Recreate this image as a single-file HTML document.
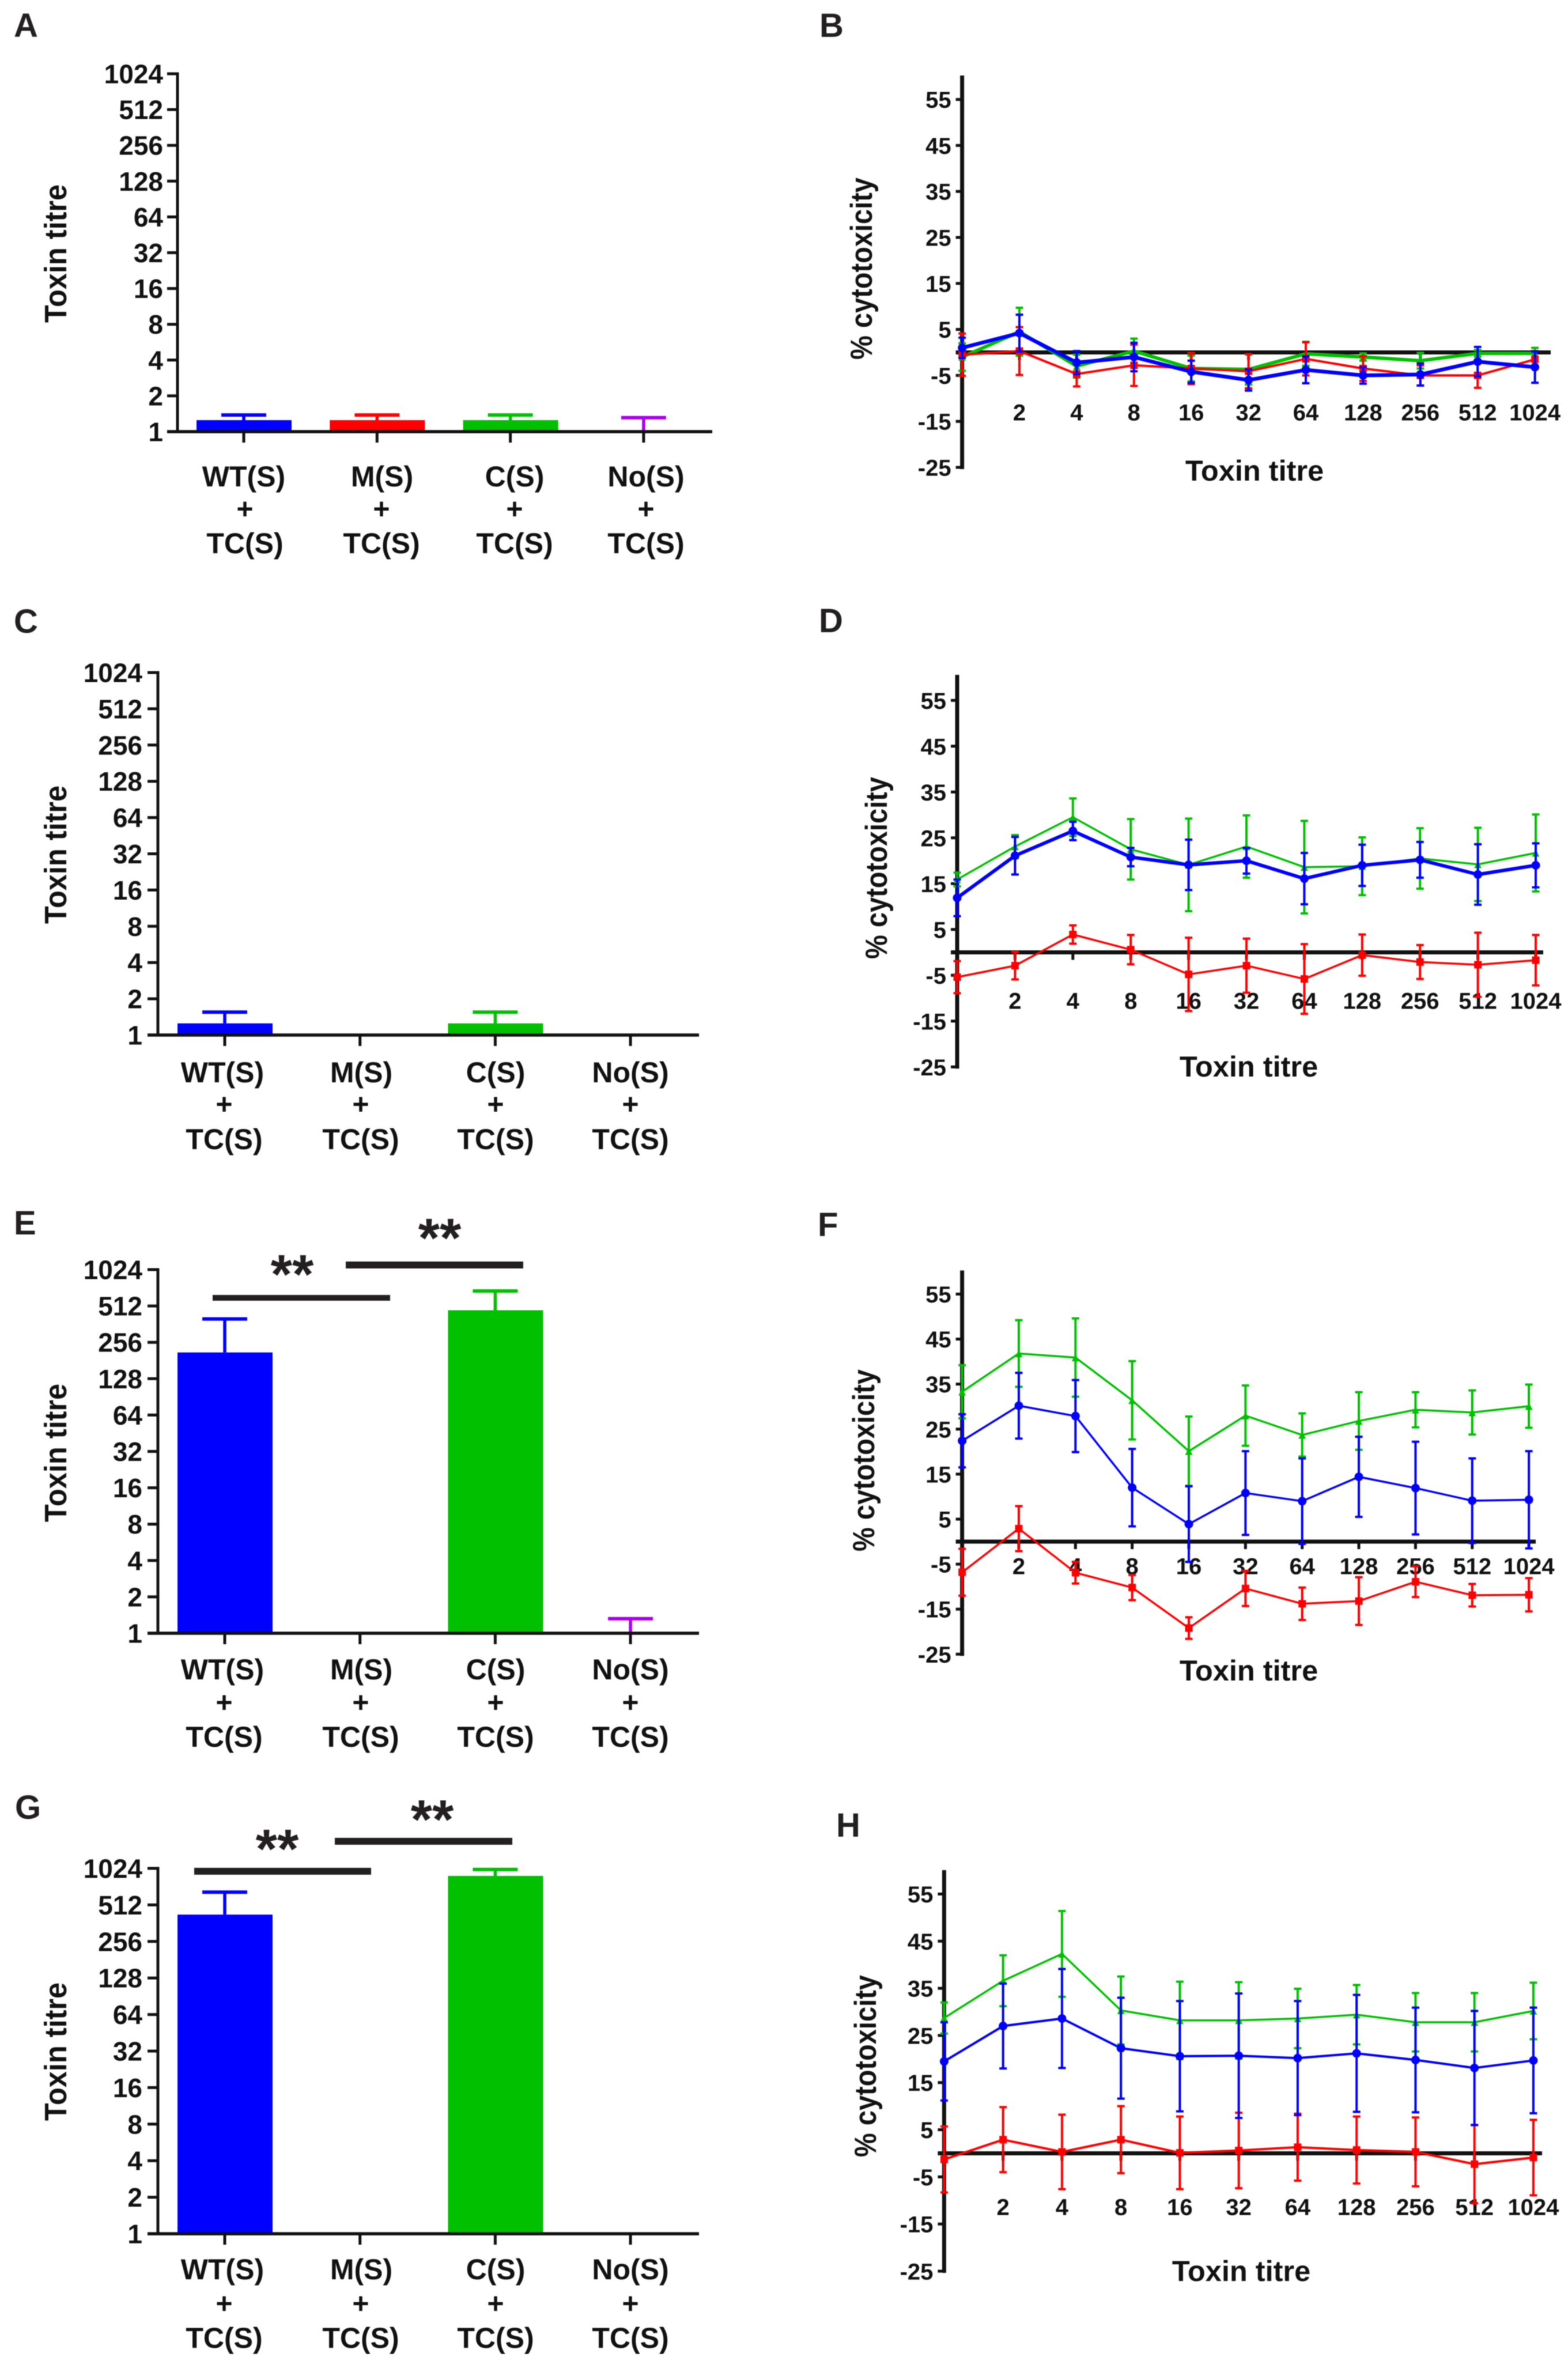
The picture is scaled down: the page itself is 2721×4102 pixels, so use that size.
<!DOCTYPE html>
<html lang="en">
<head>
<meta charset="utf-8">
<title>Toxin titre and cytotoxicity panels</title>
<style>
html,body{margin:0;padding:0;background:#fff;}
svg{display:block;filter:blur(0.7px);}
text{font-family:"Liberation Sans",Arial,sans-serif;font-weight:bold;fill:#111;}
.letter{font-size:58px;fill:#231f20;}
.cat{font-size:50px;text-anchor:middle;}
.ttl{font-size:50.5px;text-anchor:middle;}
.pct{font-size:47px;text-anchor:middle;}
.star{font-size:96px;text-anchor:middle;fill:#231f20;}
</style>
</head>
<body>
<svg xmlns="http://www.w3.org/2000/svg" width="2721" height="4102" viewBox="0 0 2721 4102">
<rect x="0" y="0" width="2721" height="4102" fill="#fff"/>

<g id="panel-a"></g>
<g id="panel-b"></g>
<g id="panel-c"></g>
<g id="panel-d"></g>
<g id="panel-e"></g>
<g id="panel-f"></g>
<g id="panel-g"></g>
<g id="panel-h"></g>

<text class="letter" x="24" y="64">A</text>
<text class="letter" x="1422" y="64">B</text>
<text class="letter" x="24" y="1098">C</text>
<text class="letter" x="1421" y="1097">D</text>
<text class="letter" x="24" y="2142">E</text>
<text class="letter" x="1419" y="2145">F</text>
<text class="letter" x="26" y="3156">G</text>
<text class="letter" x="1451" y="3187">H</text>

<text class="ttl" transform="translate(115,440) rotate(-90) scale(1,1.07)">Toxin titre</text>
<text class="ttl" transform="translate(115,1483) rotate(-90) scale(1,1.07)">Toxin titre</text>
<text class="ttl" transform="translate(115,2521) rotate(-90) scale(1,1.07)">Toxin titre</text>
<text class="ttl" transform="translate(115,3560) rotate(-90) scale(1,1.07)">Toxin titre</text>

<text class="pct" transform="translate(1513,466) rotate(-90) scale(1,1.12)">% cytotoxicity</text>
<text class="pct" transform="translate(1539,1506) rotate(-90) scale(1,1.12)">% cytotoxicity</text>
<text class="pct" transform="translate(1517,2534) rotate(-90) scale(1,1.12)">% cytotoxicity</text>
<text class="pct" transform="translate(1520,3585) rotate(-90) scale(1,1.12)">% cytotoxicity</text>

<text class="ttl" x="2177" y="834">Toxin titre</text>
<text class="ttl" x="2167" y="1868">Toxin titre</text>
<text class="ttl" x="2167" y="2916">Toxin titre</text>
<text class="ttl" x="2154" y="3958">Toxin titre</text>

<text class="cat"><tspan x="423" y="844">WT(S)</tspan><tspan x="425" y="900">+</tspan><tspan x="425" y="960">TC(S)</tspan></text>
<text class="cat"><tspan x="663" y="844">M(S)</tspan><tspan x="662" y="900">+</tspan><tspan x="662" y="960">TC(S)</tspan></text>
<text class="cat"><tspan x="893" y="844">C(S)</tspan><tspan x="893" y="900">+</tspan><tspan x="893" y="960">TC(S)</tspan></text>
<text class="cat"><tspan x="1121" y="844">No(S)</tspan><tspan x="1121" y="900">+</tspan><tspan x="1121" y="960">TC(S)</tspan></text>

<text class="cat"><tspan x="386" y="1878">WT(S)</tspan><tspan x="389" y="1933">+</tspan><tspan x="389" y="1994">TC(S)</tspan></text>
<text class="cat"><tspan x="627" y="1878">M(S)</tspan><tspan x="626" y="1933">+</tspan><tspan x="626" y="1994">TC(S)</tspan></text>
<text class="cat"><tspan x="860" y="1878">C(S)</tspan><tspan x="860" y="1933">+</tspan><tspan x="860" y="1994">TC(S)</tspan></text>
<text class="cat"><tspan x="1094" y="1878">No(S)</tspan><tspan x="1094" y="1933">+</tspan><tspan x="1094" y="1994">TC(S)</tspan></text>

<text class="cat"><tspan x="386" y="2914">WT(S)</tspan><tspan x="389" y="2971">+</tspan><tspan x="389" y="3031">TC(S)</tspan></text>
<text class="cat"><tspan x="627" y="2914">M(S)</tspan><tspan x="626" y="2971">+</tspan><tspan x="626" y="3031">TC(S)</tspan></text>
<text class="cat"><tspan x="860" y="2914">C(S)</tspan><tspan x="860" y="2971">+</tspan><tspan x="860" y="3031">TC(S)</tspan></text>
<text class="cat"><tspan x="1094" y="2914">No(S)</tspan><tspan x="1094" y="2971">+</tspan><tspan x="1094" y="3031">TC(S)</tspan></text>

<text class="cat"><tspan x="386" y="3955">WT(S)</tspan><tspan x="389" y="4014">+</tspan><tspan x="389" y="4074">TC(S)</tspan></text>
<text class="cat"><tspan x="627" y="3955">M(S)</tspan><tspan x="626" y="4014">+</tspan><tspan x="626" y="4074">TC(S)</tspan></text>
<text class="cat"><tspan x="860" y="3955">C(S)</tspan><tspan x="860" y="4014">+</tspan><tspan x="860" y="4074">TC(S)</tspan></text>
<text class="cat"><tspan x="1094" y="3955">No(S)</tspan><tspan x="1094" y="4014">+</tspan><tspan x="1094" y="4074">TC(S)</tspan></text>

<rect x="369" y="2247" width="308" height="10" fill="#231f20"/>
<rect x="600" y="2189" width="308" height="12" fill="#231f20"/>
<text class="star" x="507" y="2244">**</text>
<text class="star" x="763" y="2181">**</text>

<rect x="337" y="3241" width="307" height="12" fill="#231f20"/>
<rect x="581" y="3189" width="308" height="12" fill="#231f20"/>
<text class="star" x="481" y="3241">**</text>
<text class="star" x="750" y="3190">**</text>
</svg>

<script>
// Shared tick labels
const barTicks = [1, 2, 4, 8, 16, 32, 64, 128, 256, 512, 1024];
const lineYTicks = [55, 45, 35, 25, 15, 5, -5, -15, -25];
const lineXLabels = ['', '2', '4', '8', '16', '32', '64', '128', '256', '512', '1024'];
const barCategories = ['wt', 'm', 'c', 'no'];

// Bar panels: mean titre and top of error bar (1 = no bar, null = no error bar)
const barMeansA = [1.25, 1.25, 1.25, 1];
const barTopsA = [1.38, 1.38, 1.38, 1.31];
const barMeansC = [1.25, 1, 1.25, 1];
const barTopsC = [1.55, null, 1.55, null];
const barMeansE = [211, 1, 472, 1];
const barTopsE = [400, null, 681, 1.32];
const barMeansG = [426, 1, 888, 1];
const barTopsG = [652, null, 1003, null];

// Panel B
const greenB = [-1, 4.5, -3, 0.3, -3.5, -3.7, -0.3, -1, -1.8, -0.2, -0.2];
const greenErrB = [3, 5.2, 2.5, 2.7, 2.8, 3.3, 2.6, 0.8, 1.7, 0.7, 1.2];
const redB = [-0.5, 0.3, -4.7, -2.8, -3.5, -4.1, -1.4, -3.5, -5, -5, -1.5];
const redErrB = [4.6, 5.2, 2.7, 4.5, 3.4, 3.7, 3.6, 2.7, 2.2, 2.7, 1.8];
const blueB = [1, 4.2, -2.2, -1, -4.2, -6, -3.8, -5, -4.8, -2, -3.2];
const blueErrB = [2.2, 4, 2.5, 3.1, 2.4, 2.3, 2.9, 1.8, 2.4, 3.2, 3.4];

// Panel D
const greenD = [15.9, 23.1, 29.5, 22.5, 19.1, 23.1, 18.6, 18.8, 20.5, 19.2, 21.7];
const greenErrD = [1.5, 2.5, 4.1, 6.6, 10.1, 6.8, 10.1, 6.3, 6.6, 8, 8.4];
const redD = [-5.4, -2.9, 3.9, 0.6, -4.8, -2.9, -5.8, -0.6, -2.1, -2.7, -1.7];
const redErrD = [3.5, 3, 2, 3.2, 8, 5.9, 7.6, 4.5, 3.7, 7, 5.5];
const blueD = [11.9, 21.1, 26.5, 20.8, 19.1, 20, 16.1, 19, 20.2, 17, 19];
const blueErrD = [4, 4.1, 2, 2, 5.5, 2.8, 5.6, 4.5, 3.9, 6.6, 4.8];

// Panel F
const greenF = [33.3, 41.8, 40.9, 31.4, 20.1, 28, 23.7, 26.8, 29.3, 28.7, 30.1];
const greenErrF = [5.9, 7.4, 8.7, 8.7, 7.7, 6.7, 4.8, 6.4, 3.9, 4.9, 4.8];
const redF = [-6.8, 2.9, -6.9, -10.2, -19.2, -10.4, -13.8, -13.2, -8.9, -11.9, -11.8];
const redErrF = [5.2, 5, 2.4, 2.8, 2.4, 3.9, 3.6, 5.3, 3.4, 2.5, 3.7];
const blueF = [22.4, 30.2, 27.9, 12, 3.9, 10.8, 9, 14.4, 11.9, 9.1, 9.3];
const blueErrF = [5.9, 7.3, 8, 8.6, 8.4, 9.3, 9.5, 8.9, 10.3, 9.4, 10.8];

// Panel H
const greenH = [28.7, 36.6, 42.3, 30.3, 28.2, 28.2, 28.6, 29.4, 27.8, 27.8, 30.2];
const greenErrH = [3.3, 5.4, 9.1, 7.2, 8.2, 8.1, 6.3, 6.3, 6.2, 6.2, 6];
const redH = [-1.3, 2.9, 0.3, 2.9, 0.1, 0.6, 1.3, 0.7, 0.3, -2.3, -0.9];
const redErrH = [7, 6.9, 7.9, 7.1, 7.7, 8, 7.1, 7.1, 7.3, 8.3, 8];
const blueH = [19.5, 27, 28.6, 22.3, 20.6, 20.7, 20.2, 21.2, 19.8, 18.1, 19.7];
const blueErrH = [8.3, 9, 10.5, 10.7, 11.7, 13.2, 12.1, 12.4, 11.1, 12.1, 11.2];

const SVG_NS = 'http://www.w3.org/2000/svg';
const BLACK = '#111';
const BLUE = '#0000ff';
const RED = '#ff0000';
const GREEN = '#00c000';
const PURPLE = '#aa00ee';
const barColors = [BLUE, RED, GREEN, PURPLE];

function addEl(parent, tag, name, attrs, content) {
  const el = document.createElementNS(SVG_NS, tag);
  for (const k in attrs) el.setAttribute(k, attrs[k]);
  
  
  if (content !== undefined) el.textContent = content;
  parent.appendChild(el);
  return el;
}

function line(parent, name, x1, y1, x2, y2, color, w) {
  return addEl(parent, 'line', name, {x1: x1, y1: y1, x2: x2, y2: y2, stroke: color, 'stroke-width': w});
}

function drawBarPanel(id, g, means, tops) {
  const root = document.getElementById(id);
  const yOf = v => g.y1 - Math.log2(v) * (g.y1 - g.yTop) / 10;
  const xOf = i => g.x0 + i * g.step;
  means.forEach((m, i) => {
    const c = barColors[i], cx = xOf(i), top = yOf(m);
    if (tops[i] !== null) {
      const cap = yOf(tops[i]);
      line(root, barCategories[i] + '-error-stem', cx, top, cx, cap, c, 5.5);
      line(root, barCategories[i] + '-error-cap', cx - 39, cap, cx + 39, cap, c, 6);
    }
    if (m > 1) {
      addEl(root, 'rect', 'bar-' + barCategories[i], {x: cx - 82, y: top, width: 165, height: g.y1 - top, fill: c});
    }
  });
  line(root, 'y-axis-line', g.axisX, g.yTop - 2.5, g.axisX, g.y1 + 2.5, BLACK, 5);
  line(root, 'x-axis-line', g.tickLeft, g.y1, g.xEnd, g.y1, BLACK, 5.5);
  barTicks.forEach(t => {
    const y = yOf(t);
    line(root, 'y-tick-' + t, g.tickLeft, y, g.axisX, y, BLACK, 5);
    addEl(root, 'text', 'y-tick-label-' + t, {x: g.labelX, y: y + 16.5, 'text-anchor': 'end', 'font-size': 46}, String(t));
  });
  means.forEach((m, i) => {
    line(root, 'x-tick-' + barCategories[i], xOf(i), g.y1, xOf(i), g.y1 + 19, BLACK, 5);
  });
}

function drawSeries(root, name, vals, errs, xOf, yOf, color, w, marker, mSize) {
  vals.forEach((v, i) => {
    const x = xOf(i), yU = yOf(v + errs[i]), yD = yOf(v - errs[i]);
    line(root, name + '-error-' + i, x, yU, x, yD, color, 4);
    line(root, name + '-cap-upper-' + i, x - 6.5, yU, x + 6.5, yU, color, 4);
    line(root, name + '-cap-lower-' + i, x - 6.5, yD, x + 6.5, yD, color, 4);
  });
  const pts = vals.map((v, i) => xOf(i).toFixed(1) + ',' + yOf(v).toFixed(1)).join(' ');
  addEl(root, 'polyline', name + '-line', {points: pts, fill: 'none', stroke: color, 'stroke-width': w, 'stroke-linejoin': 'round'});
  vals.forEach((v, i) => {
    const x = xOf(i), y = yOf(v);
    if (marker === 'circle') {
      addEl(root, 'circle', name + '-point-' + i, {cx: x, cy: y, r: mSize, fill: color});
    } else if (marker === 'square') {
      addEl(root, 'rect', name + '-point-' + i, {x: x - mSize, y: y - mSize, width: 2 * mSize, height: 2 * mSize, fill: color});
    } else {
      const pp = (x - mSize) + ',' + (y + mSize) + ' ' + (x + mSize) + ',' + (y + mSize) + ' ' + x + ',' + (y - mSize);
      addEl(root, 'polygon', name + '-point-' + i, {points: pp, fill: color});
    }
  });
}

function drawLinePanel(id, g, green, greenErr, red, redErr, blue, blueErr) {
  const root = document.getElementById(id);
  const yOf = v => g.y5 - (v - 5) * g.per10 / 10;
  const xOf = i => g.x0 + i * g.step;
  const zero = yOf(0);
  line(root, 'y-axis-line', g.x0, g.yTop, g.x0, yOf(-25) + 3, BLACK, 7);
  lineYTicks.forEach(t => {
    const y = yOf(t);
    line(root, 'y-tick-' + t, g.x0 - 11, y, g.x0, y, BLACK, 5);
    addEl(root, 'text', 'y-tick-label-' + t, {x: g.x0 - 19, y: y + 14.5, 'text-anchor': 'end', 'font-size': 40}, String(t));
  });
  line(root, 'zero-line', g.x0 - 11, zero, g.zeroEnd, zero, BLACK, 7);
  lineXLabels.forEach((lab, i) => {
    if (i > 0) line(root, 'x-tick-' + lab, xOf(i), zero, xOf(i), zero + 13, BLACK, 5);
    if (lab) addEl(root, 'text', 'x-tick-label-' + lab, {x: xOf(i), y: g.labelY + 14.5, 'text-anchor': 'middle', 'font-size': 40}, lab);
  });
  drawSeries(root, 'green-series', green, greenErr, xOf, yOf, GREEN, g.wGreen, 'triangle', 6.5);
  drawSeries(root, 'red-series', red, redErr, xOf, yOf, RED, g.wRed, 'square', 6.5);
  drawSeries(root, 'blue-series', blue, blueErr, xOf, yOf, BLUE, g.wBlue, 'circle', 7.5);
}

drawBarPanel('panel-a', {x0: 423, step: 231.3, axisX: 308, yTop: 128, y1: 749, tickLeft: 290, xEnd: 1236, labelX: 283}, barMeansA, barTopsA);
drawBarPanel('panel-c', {x0: 390, step: 234.7, axisX: 274, yTop: 1167, y1: 1796, tickLeft: 256, xEnd: 1213, labelX: 247}, barMeansC, barTopsC);
drawBarPanel('panel-e', {x0: 390, step: 234.7, axisX: 274, yTop: 2203, y1: 2834, tickLeft: 256, xEnd: 1213, labelX: 247}, barMeansE, barTopsE);
drawBarPanel('panel-g', {x0: 390, step: 234.7, axisX: 274, yTop: 3242, y1: 3876, tickLeft: 256, xEnd: 1213, labelX: 247}, barMeansG, barTopsG);

drawLinePanel('panel-b', {x0: 1669.6, step: 99.4, y5: 571.6, per10: 79.8, yTop: 131, zeroEnd: 2691, labelY: 715, wGreen: 6, wRed: 4, wBlue: 6.5}, greenB, greenErrB, redB, redErrB, blueB, blueErrB);
drawLinePanel('panel-d', {x0: 1661, step: 100.4, y5: 1612.8, per10: 79.5, yTop: 1171, zeroEnd: 2678, labelY: 1736, wGreen: 3.5, wRed: 3.5, wBlue: 6}, greenD, greenErrD, redD, redErrD, blueD, blueErrD);
drawLinePanel('panel-f', {x0: 1669.6, step: 98.35, y5: 2636, per10: 78.1, yTop: 2204.5, zeroEnd: 2665, labelY: 2717, wGreen: 3.5, wRed: 3.5, wBlue: 3.5}, greenF, greenErrF, redF, redErrF, blueF, blueErrF);
drawLinePanel('panel-h', {x0: 1638.4, step: 102.25, y5: 3695.5, per10: 81.8, yTop: 3245, zeroEnd: 2676, labelY: 3829, wGreen: 3.5, wRed: 4, wBlue: 4}, greenH, greenErrH, redH, redErrH, blueH, blueErrH);
</script>
</body>
</html>
